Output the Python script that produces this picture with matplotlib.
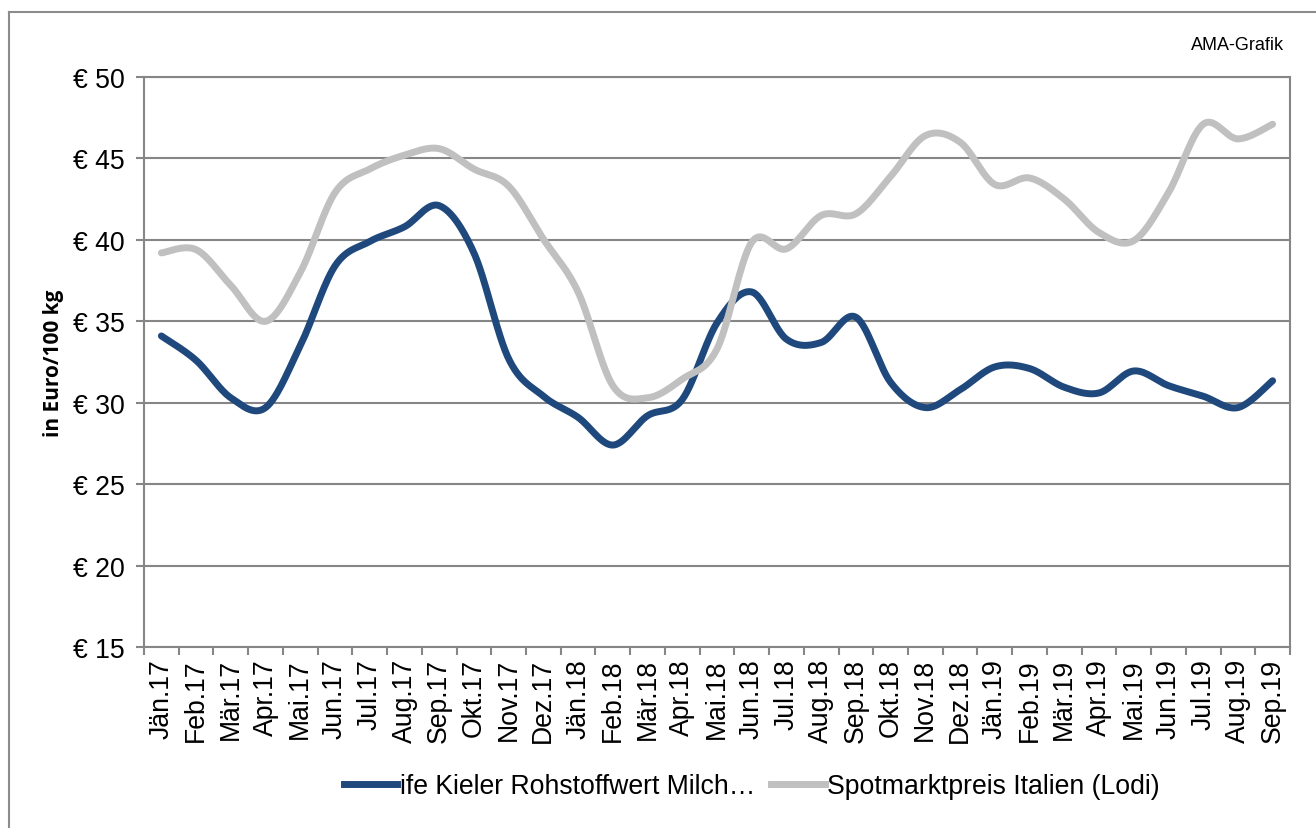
import matplotlib
matplotlib.use("Agg")
import matplotlib.pyplot as plt
from matplotlib.lines import Line2D
import numpy as np

# months on the x axis
months = ["Jän.17", "Feb.17", "Mär.17", "Apr.17", "Mai.17", "Jun.17", "Jul.17", "Aug.17",
          "Sep.17", "Okt.17", "Nov.17", "Dez.17", "Jän.18", "Feb.18", "Mär.18", "Apr.18",
          "Mai.18", "Jun.18", "Jul.18", "Aug.18", "Sep.18", "Okt.18", "Nov.18", "Dez.18",
          "Jän.19", "Feb.19", "Mär.19", "Apr.19", "Mai.19", "Jun.19", "Jul.19", "Aug.19",
          "Sep.19"]

# ife Kieler Rohstoffwert Milch (Euro/100 kg)
kiel = [34.1, 32.6, 30.3, 29.7, 33.5, 38.4, 39.9, 40.8, 42.1, 39.2, 32.7, 30.4,
        29.1, 27.4, 29.2, 30.2, 34.9, 36.8, 33.9, 33.7, 35.25, 31.25, 29.7, 30.8,
        32.2, 32.1, 30.95, 30.6, 31.95, 31.05, 30.4, 29.7, 31.35]

# Spotmarktpreis Italien (Lodi) (Euro/100 kg)
lodi = [39.2, 39.4, 37.2, 35.0, 38.0, 42.9, 44.35, 45.2, 45.6, 44.35, 43.3, 40.05,
        36.8, 31.05, 30.3, 31.45, 33.3, 39.85, 39.45, 41.5, 41.6, 43.9, 46.4, 46.0,
        43.4, 43.8, 42.5, 40.45, 39.95, 42.9, 47.1, 46.2, 47.1]

series_names = ["ife Kieler Rohstoffwert Milch…", "Spotmarktpreis Italien (Lodi)"]
series_colors = ["#1F497D", "#C0C0C0"]


def smooth(xs, ys, n=30):
    # excel-style smoothed line (catmull-rom bezier through the points)
    p = np.column_stack([xs, ys]).astype(float)
    p = np.vstack([p[0], p, p[-1]])
    out = []
    t = np.linspace(0, 1, n)[:, None]
    for i in range(1, len(p) - 2):
        p0, p1, p2, p3 = p[i - 1], p[i], p[i + 1], p[i + 2]
        c1 = p1 + (p2 - p0) / 6
        c2 = p2 - (p3 - p1) / 6
        seg = ((1 - t) ** 3) * p1 + 3 * ((1 - t) ** 2) * t * c1 + 3 * (1 - t) * t ** 2 * c2 + t ** 3 * p2
        out.append(seg if i == 1 else seg[1:])
    out = np.vstack(out)
    return out[:, 0], out[:, 1]


plt.rcParams['font.family'] = ['Liberation Sans', 'DejaVu Sans']
fs = 19.2

fig = plt.figure(figsize=(13.16, 8.29), dpi=100)
ax = fig.add_axes([144 / 1316, 1 - 648 / 829, (1290 - 144) / 1316, (648 - 78) / 829])

x = np.arange(len(months))
for vals, name, col in zip([kiel, lodi], series_names, series_colors):
    sx, sy = smooth(x, vals)
    ax.plot(sx, sy, color=col, lw=5, solid_capstyle='round', label=name)

grid_col = "#868686"
ax.set_ylim(15, 50)
ax.set_yticks(np.arange(15, 51, 5))
ax.set_yticklabels([f"€ {v}" for v in range(15, 51, 5)], fontsize=fs)
ax.yaxis.grid(True, color=grid_col, lw=1.5)
ax.set_axisbelow(True)

ax.set_xlim(-0.5, len(months) - 0.5)
ax.set_xticks(np.arange(-0.5, len(months), 1.0))
ax.set_xticklabels([])
ax.set_xticks(x, minor=True)
ax.set_xticklabels(months, minor=True, rotation=90, fontsize=fs)
ax.tick_params(axis='x', which='minor', length=0, pad=8)
ax.tick_params(axis='x', which='major', length=6, width=1.5, color=grid_col)
ax.tick_params(axis='y', length=6, width=1.5, color=grid_col, pad=8)

for s in ax.spines.values():
    s.set_color(grid_col)
    s.set_linewidth(1.5)

ax.set_ylabel("in Euro/100 kg", fontsize=15, fontweight='bold', family=['Open Sans', 'DejaVu Sans'],
              labelpad=6)

fig.text(1284 / 1316, 1 - 45 / 829, "AMA-Grafik", fontsize=13, ha='right', va='center')

handles = [Line2D([], [], color=c, lw=5) for c in series_colors]
fig.legend(handles, series_names, loc='center', bbox_to_anchor=(752 / 1316, 1 - 787 / 829),
           ncol=2, frameon=False, fontsize=fs, handlelength=2.0, handletextpad=0.1,
           columnspacing=0.6)

# outer chart border
fig.add_artist(Line2D([9 / 1316, 9 / 1316], [0, 1 - 13 / 829], color="#8C8C8C", lw=1.5))
fig.add_artist(Line2D([9 / 1316, 1], [1 - 13 / 829, 1 - 13 / 829], color="#8C8C8C", lw=1.5))

fig.savefig("out.png", dpi=100)
